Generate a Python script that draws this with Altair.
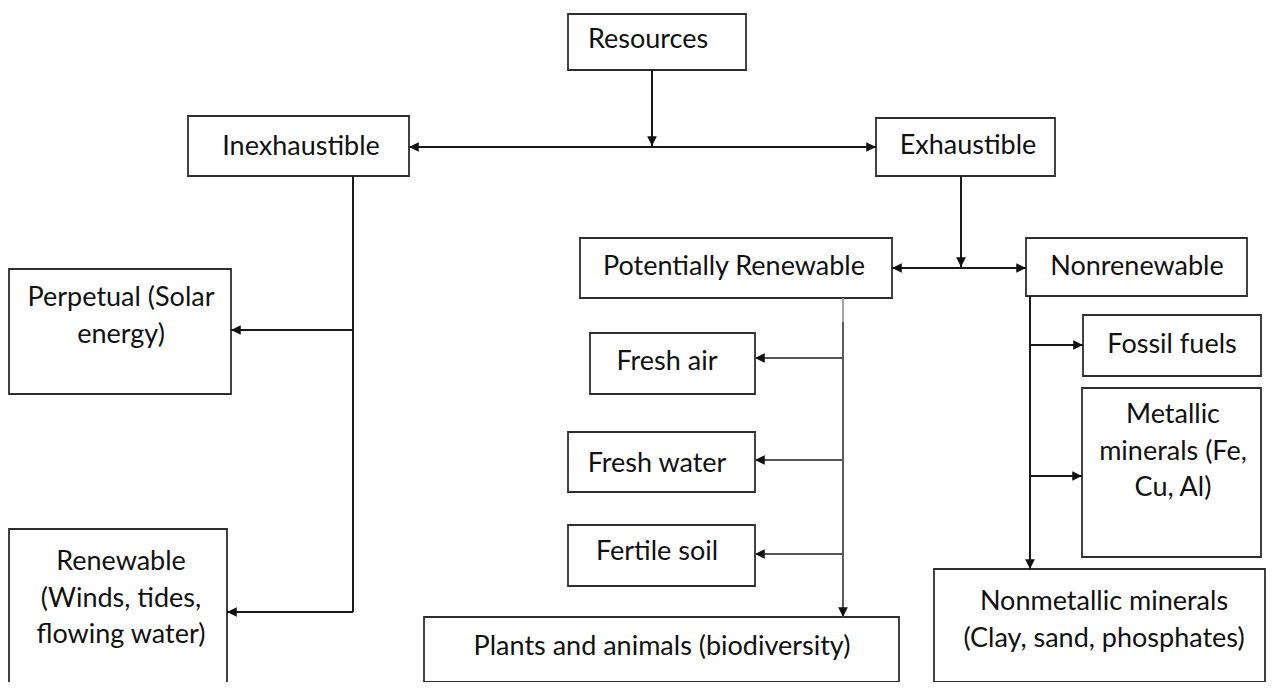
import altair as alt
import pandas as pd

# ---- boxes (image pixel coordinates) ----
box_name = ["Resources", "Inexhaustible", "Exhaustible", "Potentially Renewable",
            "Nonrenewable", "Perpetual", "Renewable", "Fresh air", "Fresh water",
            "Fertile soil", "Plants", "Fossil fuels", "Metallic", "Nonmetallic"]
box_x1 = [568, 188, 876, 580, 1026, 9, 9, 590, 568, 568, 424, 1083, 1082, 934]
box_x2 = [746, 409, 1055, 892, 1247, 231, 227, 755, 755, 755, 899, 1261, 1261, 1265]
box_y1 = [14, 116, 118, 238, 238, 269, 529, 333, 432, 525, 617, 315, 388, 569]
box_y2 = [70, 176, 176, 298, 296, 394, 700, 394, 492, 586, 682, 376, 557, 682]

# ---- labels (y is the first line's centre) ----
label_text = ["Resources", "Inexhaustible", "Exhaustible", "Potentially Renewable",
              "Nonrenewable", "Perpetual (Solar\nenergy)",
              "Renewable\n(Winds, tides,\nflowing water)", "Fresh air", "Fresh water",
              "Fertile soil", "Plants and animals (biodiversity)", "Fossil fuels",
              "Metallic\nminerals (Fe,\nCu, Al)",
              "Nonmetallic minerals\n(Clay, sand, phosphates)"]
label_x = [648, 301, 968, 734, 1137, 121, 121, 667, 657, 657, 662, 1172, 1173, 1104]
label_y = [40, 147, 146, 267, 267, 298, 562, 362, 464, 552, 647, 345, 415, 602]

# ---- connector lines ----
line_x1 = [652, 409, 353, 231, 227, 961, 892, 843, 843, 755, 755, 755, 1030, 1030, 1030]
line_x2 = [652, 876, 353, 353, 353, 961, 1026, 843, 843, 843, 843, 843, 1030, 1083, 1082]
line_y1 = [70, 147, 176, 330, 612, 176, 268, 298, 322, 358, 460, 554, 296, 345, 476]
line_y2 = [147, 147, 612, 330, 612, 268, 268, 322, 617, 358, 460, 554, 569, 345, 476]
line_kind = ["k", "k", "k", "k", "k", "k", "k", "g", "m", "m", "m", "m", "k", "k", "k"]

# ---- arrowheads (tip positions) ----
arrow_x = [652, 409, 876, 231, 227, 961, 892, 1026, 755, 755, 755, 843, 1030, 1083, 1082]
arrow_y = [146, 147, 147, 330, 612, 267, 268, 268, 358, 460, 554, 617, 569, 345, 476]
arrow_dir = ["down", "left", "right", "left", "left", "down", "left", "right",
             "left", "left", "left", "down", "down", "right", "right"]

boxes = pd.DataFrame({"name": box_name, "x1": box_x1, "x2": box_x2, "y1": box_y1, "y2": box_y2})
labels = pd.DataFrame({"text": label_text, "x": label_x, "y": label_y})
lines = pd.DataFrame({"x1": line_x1, "x2": line_x2, "y1": line_y1, "y2": line_y2, "kind": line_kind})
arrows = pd.DataFrame({"x": arrow_x, "y": arrow_y, "dir": arrow_dir})

X = alt.Scale(domain=[8, 1266], nice=False, zero=False)
Y = alt.Scale(domain=[8, 682], nice=False, zero=False, reverse=True)

rects = alt.Chart(boxes).mark_rect(fill="white", stroke="#2e2e2e", strokeWidth=1.8, clip=True).encode(
    x=alt.X("x1:Q", scale=X, axis=None), x2="x2:Q",
    y=alt.Y("y1:Q", scale=Y, axis=None), y2="y2:Q",
)

rules = alt.Chart(lines).mark_rule(clip=True).encode(
    x=alt.X("x1:Q", scale=X, axis=None), x2="x2:Q",
    y=alt.Y("y1:Q", scale=Y, axis=None), y2="y2:Q",
    color=alt.Color("kind:N", scale=alt.Scale(domain=["k", "m", "g"],
                                              range=["#1a1a1a", "#555555", "#9a9a9a"]), legend=None),
    strokeWidth=alt.StrokeWidth("kind:N", scale=alt.Scale(domain=["k", "m", "g"], range=[2, 1.8, 3.5]),
                                legend=None),
)

paths = {
    "left": "M0,0L1,-0.5L1,0.5Z",
    "right": "M0,0L-1,-0.5L-1,0.5Z",
    "down": "M0,0L-0.5,-1L0.5,-1Z",
}
heads = alt.Chart(arrows).mark_point(filled=True, opacity=1, color="#111", size=380, strokeWidth=0).encode(
    x=alt.X("x:Q", scale=X, axis=None),
    y=alt.Y("y:Q", scale=Y, axis=None),
    shape=alt.Shape("dir:N", scale=alt.Scale(domain=list(paths.keys()), range=list(paths.values())), legend=None),
)

texts = alt.Chart(labels).mark_text(font="Lato", fontSize=27, lineBreak="\n", lineHeight=36.5,
                                     color="#111", align="center", baseline="middle").encode(
    x=alt.X("x:Q", scale=X, axis=None),
    y=alt.Y("y:Q", scale=Y, axis=None),
    text="text:N",
)

chart = alt.layer(rects, rules, heads, texts).properties(
    width=1258, height=674, padding=0, background="white"
).configure_view(stroke=None)

chart.save("out.html", embed_options={"renderer": "svg", "actions": False})
